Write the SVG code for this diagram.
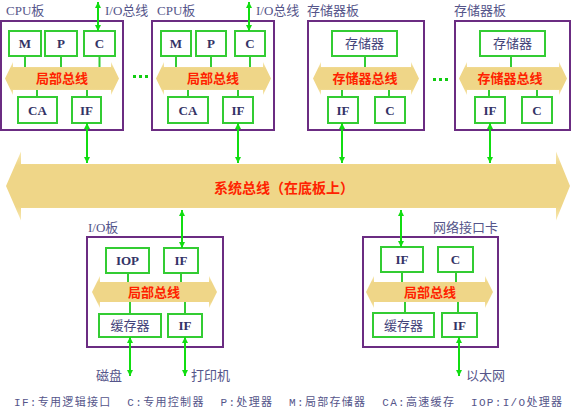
<svg xmlns="http://www.w3.org/2000/svg" width="571" height="410" viewBox="0 0 571 410">
<defs>
<linearGradient id="bg" x1="0" y1="0" x2="0" y2="1">
<stop offset="0" stop-color="#f8e9b4"/>
<stop offset="0.2" stop-color="#efd688"/>
<stop offset="0.8" stop-color="#efd688"/>
<stop offset="1" stop-color="#f8e9b4"/>
</linearGradient>
<marker id="ah" viewBox="0 0 6 6" refX="6" refY="3" markerWidth="6" markerHeight="6" markerUnits="userSpaceOnUse" orient="auto-start-reverse">
<path d="M0,0 L6,3 L0,6 z" fill="#11dd11"/>
</marker>
<style>
.board{fill:#fff;stroke:#6b2c82;stroke-width:2}
.box{fill:#fff;stroke:#33cc33;stroke-width:2}
.bus{fill:url(#bg)}
.stub{stroke:#33cc33;stroke-width:2;fill:none}
.con{stroke:#11dd11;stroke-width:2;fill:none;marker-start:url(#ah);marker-end:url(#ah)}
.dot{fill:#11cc11}
.lbl{font-family:"Liberation Serif","Noto Sans CJK SC",serif;font-size:13px;fill:#55558a}
.bx{font-family:"Liberation Serif","Noto Sans CJK SC",serif;font-size:13px;font-weight:bold;fill:#333366;text-anchor:middle}
.bxc{font-family:"Liberation Serif","Noto Sans CJK SC",serif;font-size:13px;fill:#44447a;text-anchor:middle}
.red{font-family:"Liberation Sans","Noto Sans CJK SC",sans-serif;font-size:13px;font-weight:bold;fill:#ff2200;text-anchor:middle}
.leg{font-family:"Liberation Mono","Noto Sans CJK SC",monospace;font-size:11px;fill:#55558a}
</style>
</defs>

<g id="system-bus">
<polygon class="bus" points="6,186 21,151.5 21,164 556,164 556,151.5 570,186 556,220.5 556,208 21,208 21,220.5"/>
<text class="red" x="284" y="193" style="font-size:14px">系统总线（在底板上）</text>
</g>

<g id="cpu1">
<text class="lbl" x="6" y="15">CPU板</text>
<rect class="board" x="1" y="21" width="122" height="109"/>
<polygon class="bus" points="5,78.5 13,62 13,67 111,67 111,62 119,78.5 111,95 111,90 13,90 13,95"/>
<text class="red" x="62" y="83">局部总线</text>
<rect class="box" x="9" y="31" width="32" height="25"/><text class="bx" x="25" y="48">M</text>
<rect class="box" x="45" y="31" width="32" height="25"/><text class="bx" x="61" y="48">P</text>
<rect class="box" x="84" y="31" width="31" height="25"/><text class="bx" x="99.5" y="48">C</text>
<rect class="box" x="18" y="97" width="39" height="26"/><text class="bx" x="37.5" y="115">CA</text>
<rect class="box" x="72" y="97" width="29" height="26"/><text class="bx" x="86.5" y="115">IF</text>
<text class="lbl" x="105" y="15">I/O总线</text>
</g>

<g id="cpu2">
<text class="lbl" x="157" y="15">CPU板</text>
<rect class="board" x="152" y="21" width="122" height="109"/>
<polygon class="bus" points="156,78.5 164,62 164,67 263,67 263,62 271,78.5 263,95 263,90 164,90 164,95"/>
<text class="red" x="213" y="83">局部总线</text>
<rect class="box" x="161" y="31" width="30" height="25"/><text class="bx" x="176" y="48">M</text>
<rect class="box" x="196" y="31" width="30" height="25"/><text class="bx" x="211" y="48">P</text>
<rect class="box" x="235" y="31" width="30" height="25"/><text class="bx" x="250" y="48">C</text>
<rect class="box" x="168" y="97" width="40" height="26"/><text class="bx" x="188" y="115">CA</text>
<rect class="box" x="223" y="97" width="30" height="26"/><text class="bx" x="238" y="115">IF</text>
<text class="lbl" x="256" y="15">I/O总线</text>
</g>

<g id="mem1">
<text class="lbl" x="307" y="15">存储器板</text>
<rect class="board" x="308" y="21" width="116" height="109"/>
<polygon class="bus" points="313,78.5 321,62 321,67 411,67 411,62 419,78.5 411,95 411,90 321,90 321,95"/>
<text class="red" x="365" y="83">存储器总线</text>
<rect class="box" x="332" y="31" width="65" height="25"/><text class="bxc" x="364.5" y="48">存储器</text>
<rect class="box" x="328" y="97" width="30" height="26"/><text class="bx" x="343" y="115">IF</text>
<rect class="box" x="375" y="97" width="30" height="26"/><text class="bx" x="390" y="115">C</text>
</g>

<g id="mem2">
<text class="lbl" x="454" y="15">存储器板</text>
<rect class="board" x="455" y="21" width="115" height="109"/>
<polygon class="bus" points="459,78.5 467,62 467,67 559,67 559,62 567,78.5 559,95 559,90 467,90 467,95"/>
<text class="red" x="510" y="83">存储器总线</text>
<rect class="box" x="480" y="31" width="65" height="25"/><text class="bxc" x="512.5" y="48">存储器</text>
<rect class="box" x="475" y="97" width="30" height="26"/><text class="bx" x="490" y="115">IF</text>
<rect class="box" x="522" y="97" width="30" height="26"/><text class="bx" x="537" y="115">C</text>
</g>

<g id="io-board">
<text class="lbl" x="88" y="232">I/O板</text>
<rect class="board" x="87" y="237" width="136" height="110"/>
<polygon class="bus" points="92,292 100,276 100,282 209,282 209,276 217,292 209,308 209,302 100,302 100,308"/>
<text class="red" x="154" y="296.5">局部总线</text>
<rect class="box" x="106" y="248" width="43" height="25"/><text class="bx" x="127.5" y="265">IOP</text>
<rect class="box" x="164" y="248" width="34" height="25"/><text class="bx" x="181" y="265">IF</text>
<rect class="box" x="99" y="314" width="62" height="23"/><text class="bxc" x="130" y="330">缓存器</text>
<rect class="box" x="168" y="314" width="34" height="23"/><text class="bx" x="185" y="330">IF</text>
<text class="lbl" x="96" y="380">磁盘</text>
<text class="lbl" x="191" y="380">打印机</text>
</g>

<g id="net-card">
<text class="lbl" x="498" y="232" text-anchor="end">网络接口卡</text>
<rect class="board" x="363" y="237" width="135" height="110"/>
<polygon class="bus" points="366,292 374,276 374,282 485,282 485,276 493,292 485,308 485,302 374,302 374,308"/>
<text class="red" x="430" y="296.5">局部总线</text>
<rect class="box" x="381" y="247" width="42" height="25"/><text class="bx" x="402" y="264">IF</text>
<rect class="box" x="438" y="247" width="35" height="25"/><text class="bx" x="455.5" y="264">C</text>
<rect class="box" x="373" y="313" width="61" height="24"/><text class="bxc" x="403.5" y="330">缓存器</text>
<rect class="box" x="442" y="313" width="35" height="24"/><text class="bx" x="459.5" y="330">IF</text>
<text class="lbl" x="466" y="380">以太网</text>
</g>

<g id="connectors">
<path class="stub" d="M25,56V67 M61,56V67 M99.5,56V67 M37,90V97 M87,90V97"/>
<path class="stub" d="M176,56V67 M211,56V67 M250,56V67 M188,90V97 M238,90V97"/>
<path class="stub" d="M365,56V67 M342,90V97 M389,90V97"/>
<path class="stub" d="M511,56V67 M489,90V97 M537,90V97"/>
<path class="stub" d="M128,273V282 M181,273V282 M130,302V314 M185,302V314"/>
<path class="stub" d="M402,272V282 M456,272V282 M405,302V313 M458,302V313"/>
<line class="con" x1="98" y1="2" x2="98" y2="31"/>
<line class="con" x1="249" y1="2" x2="249" y2="31"/>
<line class="con" x1="87" y1="123" x2="87" y2="163"/>
<line class="con" x1="238" y1="123" x2="238" y2="163"/>
<line class="con" x1="342" y1="123" x2="342" y2="163"/>
<line class="con" x1="490" y1="123" x2="490" y2="163"/>
<line class="con" x1="182" y1="210" x2="182" y2="248"/>
<line class="con" x1="401" y1="210" x2="401" y2="247"/>
<line class="con" x1="130" y1="337" x2="130" y2="376"/>
<line class="con" x1="185" y1="337" x2="185" y2="376"/>
<line class="con" x1="459" y1="337" x2="459" y2="376"/>
</g>

<g id="dots">
<rect class="dot" x="133" y="75" width="3" height="3"/>
<rect class="dot" x="139" y="75" width="3" height="3"/>
<rect class="dot" x="145" y="75" width="3" height="3"/>
<rect class="dot" x="433" y="78" width="3" height="3"/>
<rect class="dot" x="439" y="78" width="3" height="3"/>
<rect class="dot" x="445" y="78" width="3" height="3"/>
</g>

<text class="leg" x="14" y="406" textLength="548" lengthAdjust="spacing" xml:space="preserve">IF:专用逻辑接口  C:专用控制器  P:处理器  M:局部存储器  CA:高速缓存  IOP:I/O处理器</text>
</svg>
